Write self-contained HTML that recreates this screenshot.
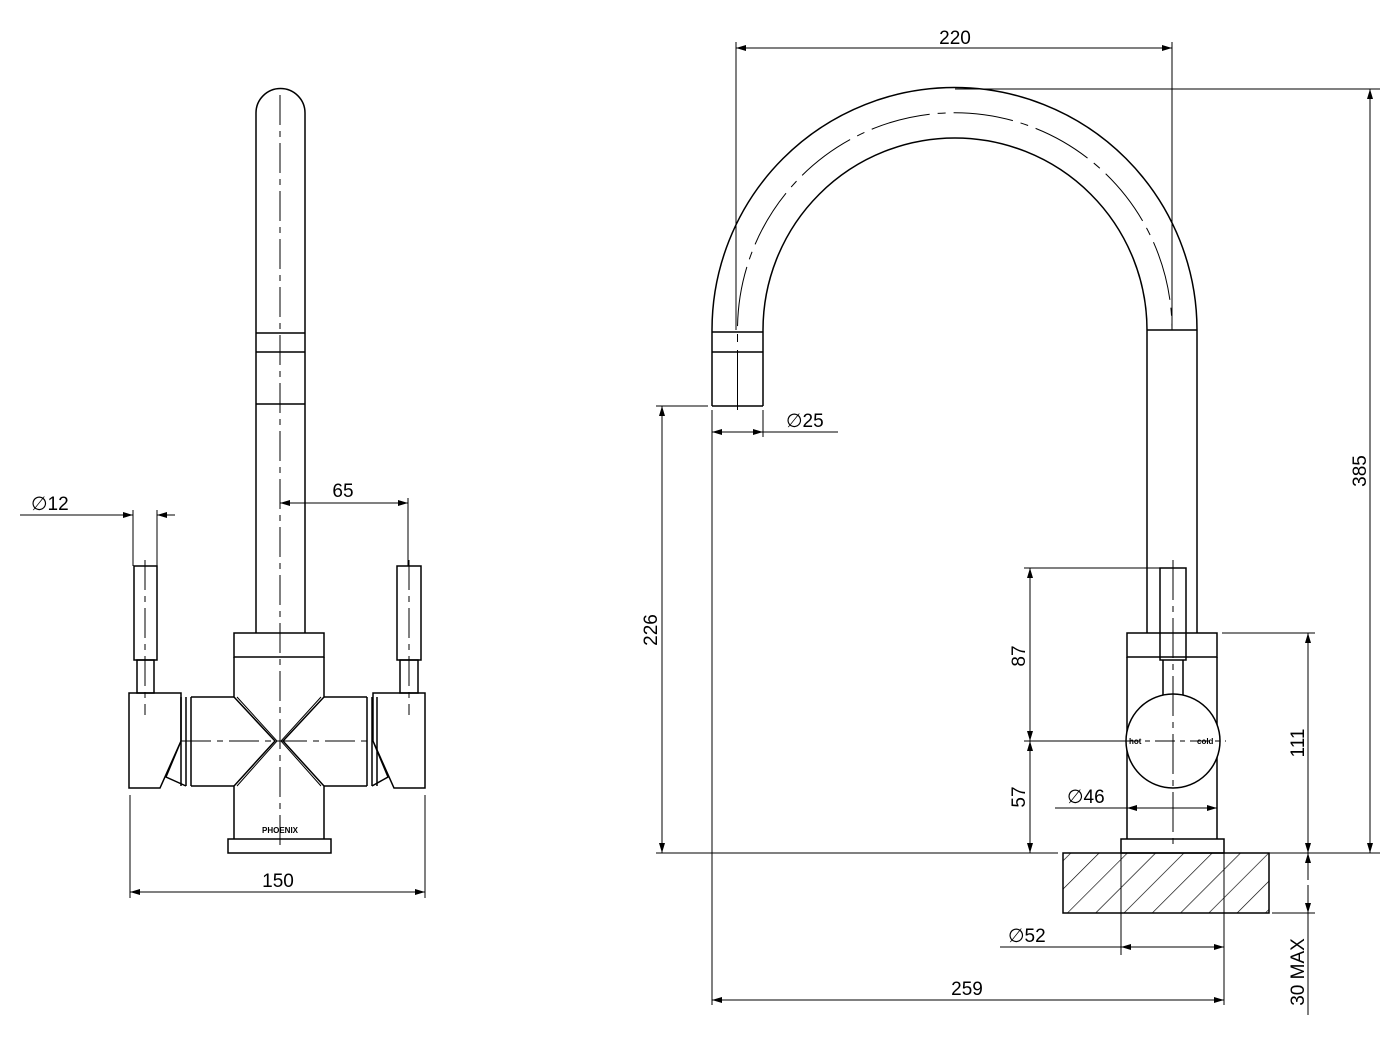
<!DOCTYPE html>
<html><head><meta charset="utf-8"><style>html,body{margin:0;padding:0;background:#fff}svg{display:block}</style></head><body>
<svg width="1400" height="1045" viewBox="0 0 1400 1045" xmlns="http://www.w3.org/2000/svg" font-family="'Liberation Sans', sans-serif">
<defs>
<marker id="a" viewBox="0 0 10 6" refX="10" refY="3" markerWidth="16" markerHeight="6" markerUnits="userSpaceOnUse" orient="auto-start-reverse"><path d="M0,0L10,3L0,6z" fill="#000"/></marker>
<pattern id="h" patternUnits="userSpaceOnUse" width="20" height="20" patternTransform="rotate(45)"><line x1="0" y1="0" x2="0" y2="20" stroke="#000" stroke-width="1.3"/></pattern>
</defs>
<g fill="none" stroke="#000" stroke-width="1.5">
<!-- LEFT VIEW -->
<path d="M256,633 V113 A24.5,24.5 0 0 1 305,113 V633"/>
<line x1="256" y1="333" x2="305" y2="333"/><line x1="256" y1="352" x2="305" y2="352"/><line x1="256" y1="404" x2="305" y2="404"/>
<rect x="234" y="633" width="90" height="24"/>
<path d="M234,657 V697 L275,741 L234,786 V839 M324,657 V697 L283,741 L324,786 V839"/>
<path d="M237,697 L277,741 L237,786 M321,697 L281,741 L321,786" stroke-width="1"/>
<rect x="228" y="839" width="103" height="14"/>
<path d="M191,697 H234 M191,786 H234 M191,697 V786 M186,697 V786 M181,697 V786"/>
<path d="M324,697 H367 M324,786 H367 M367,697 V786 M372,697 V786 M377,697 V786"/>
<path d="M129,693 H181 V741 L160,788 H129 Z M181,741 L166,777 L186,786"/>
<path d="M425,693 H373 V741 L394,788 H425 Z M373,741 L388,777 L372,786"/>
<rect x="134" y="566" width="23" height="94"/><rect x="137" y="660" width="17" height="33"/>
<rect x="397" y="566" width="24" height="94"/><rect x="400" y="660" width="18" height="33"/>
<g stroke-width="1" stroke-dasharray="30,6,6,6">
<line x1="280" y1="95" x2="280" y2="850"/><line x1="145" y1="560" x2="145" y2="715"/><line x1="409" y1="560" x2="409" y2="715"/>
<line x1="181" y1="741" x2="373" y2="741"/>
</g>
<g stroke-width="1">
<line x1="133" y1="510" x2="133" y2="566"/><line x1="157" y1="510" x2="157" y2="566"/>
<line x1="20" y1="515" x2="133" y2="515" marker-end="url(#a)"/><line x1="175" y1="515" x2="157" y2="515" marker-end="url(#a)"/>
<line x1="408" y1="498" x2="408" y2="566"/>
<line x1="280" y1="503" x2="408" y2="503" marker-start="url(#a)" marker-end="url(#a)"/>
<line x1="130" y1="795" x2="130" y2="898"/><line x1="425" y1="795" x2="425" y2="898"/>
<line x1="130" y1="892" x2="425" y2="892" marker-start="url(#a)" marker-end="url(#a)"/>
</g>
<!-- RIGHT VIEW -->
<path d="M712,406 V330 A242.5,242.5 0 0 1 1197,330 V633"/>
<path d="M763,406 V330 A192,192 0 0 1 1147,330 V633"/>
<path d="M737.5,410 V330 A217,217 0 0 1 1172,330" stroke-width="1" stroke-dasharray="60,8,8,8"/>
<line x1="712" y1="406" x2="763" y2="406"/><line x1="712" y1="332" x2="763" y2="332"/><line x1="712" y1="352" x2="763" y2="352"/>
<line x1="1147" y1="330" x2="1197" y2="330"/>
<rect x="1127" y="633" width="90" height="24"/>
<path d="M1127,657 V839 M1217,657 V839"/>
<rect x="1160" y="568" width="26" height="92"/>
<path d="M1163,660 V695 M1183,660 V695"/>
<circle cx="1173" cy="741" r="47" fill="#fff"/>
<rect x="1121" y="839" width="103" height="14"/>
<rect x="1063" y="853" width="206" height="60" fill="url(#h)"/>
<line x1="1121" y1="853" x2="1121" y2="955" stroke-width="1"/><line x1="1224" y1="853" x2="1224" y2="1005" stroke-width="1"/>
<line x1="1173" y1="560" x2="1173" y2="846" stroke-width="1" stroke-dasharray="40,6,6,6"/>
<g stroke-width="1">
<line x1="736" y1="42" x2="736" y2="330"/><line x1="1172" y1="42" x2="1172" y2="330"/>
<line x1="736" y1="48" x2="1172" y2="48" marker-start="url(#a)" marker-end="url(#a)"/>
<line x1="955" y1="89" x2="1380" y2="89"/><line x1="1224" y1="853" x2="1380" y2="853"/>
<line x1="1370" y1="89" x2="1370" y2="853" marker-start="url(#a)" marker-end="url(#a)"/>
<line x1="656" y1="406" x2="708" y2="406"/><line x1="656" y1="853" x2="1058" y2="853"/>
<line x1="662" y1="406" x2="662" y2="853" marker-start="url(#a)" marker-end="url(#a)"/>
<line x1="712" y1="410" x2="712" y2="1005"/><line x1="763" y1="410" x2="763" y2="437"/>
<line x1="712" y1="432" x2="763" y2="432" marker-start="url(#a)" marker-end="url(#a)"/><line x1="763" y1="432" x2="838" y2="432"/>
<line x1="1024" y1="568" x2="1160" y2="568"/><line x1="1024" y1="741" x2="1120" y2="741"/>
<line x1="1030" y1="568" x2="1030" y2="741" marker-start="url(#a)" marker-end="url(#a)"/>
<line x1="1030" y1="741" x2="1030" y2="853" marker-start="url(#a)" marker-end="url(#a)"/>
<line x1="1120" y1="741" x2="1226" y2="741" stroke-dasharray="20,5,5,5"/>
<line x1="1222" y1="633" x2="1315" y2="633"/><line x1="1272" y1="913" x2="1315" y2="913"/>
<line x1="1308" y1="633" x2="1308" y2="853" marker-start="url(#a)" marker-end="url(#a)"/>
<line x1="1308" y1="880" x2="1308" y2="853" marker-end="url(#a)"/><line x1="1308" y1="885" x2="1308" y2="913" marker-end="url(#a)"/>
<line x1="1308" y1="913" x2="1308" y2="1015"/>
<line x1="1055" y1="808" x2="1127" y2="808"/><line x1="1127" y1="808" x2="1217" y2="808" marker-start="url(#a)" marker-end="url(#a)"/>
<line x1="1000" y1="947" x2="1121" y2="947"/><line x1="1121" y1="947" x2="1224" y2="947" marker-start="url(#a)" marker-end="url(#a)"/>
<line x1="712" y1="1000" x2="1224" y2="1000" marker-start="url(#a)" marker-end="url(#a)"/>
</g>
</g>
<g font-size="19" fill="#000">
<text x="955" y="44" text-anchor="middle">220</text>
<text x="31" y="510">∅12</text>
<text x="343" y="497" text-anchor="middle">65</text>
<text x="278" y="887" text-anchor="middle">150</text>
<text x="786" y="427">∅25</text>
<text x="967" y="995" text-anchor="middle">259</text>
<text x="1008" y="942">∅52</text>
<text x="1067" y="803">∅46</text>
<text transform="translate(657,630) rotate(-90)" text-anchor="middle">226</text>
<text transform="translate(1025,656) rotate(-90)" text-anchor="middle">87</text>
<text transform="translate(1025,797) rotate(-90)" text-anchor="middle">57</text>
<text transform="translate(1304,743) rotate(-90)" text-anchor="middle">111</text>
<text transform="translate(1304,972) rotate(-90)" text-anchor="middle">30 MAX</text>
<text transform="translate(1366,471) rotate(-90)" text-anchor="middle">385</text>
</g>
<g font-size="8" font-weight="bold" fill="#000">
<text x="262" y="833">PHOENIX</text>
<text x="1129" y="744">hot</text>
<text x="1197" y="744">cold</text>
</g>
</svg>
</body></html>
